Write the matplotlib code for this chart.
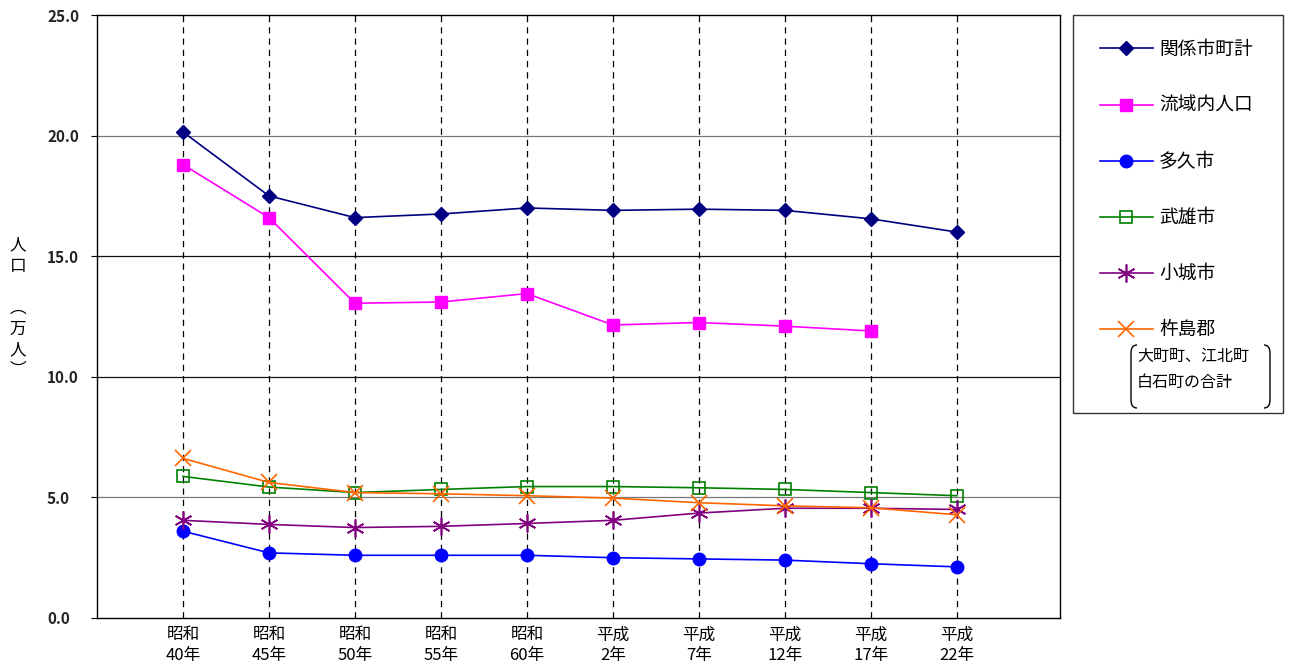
import matplotlib.pyplot as plt
from matplotlib.patches import Rectangle, PathPatch
from matplotlib.path import Path

plt.rcParams['font.family'] = ['Noto Sans CJK JP', 'DejaVu Sans']

years = ['昭和\n40年', '昭和\n45年', '昭和\n50年', '昭和\n55年', '昭和\n60年',
         '平成\n2年', '平成\n7年', '平成\n12年', '平成\n17年', '平成\n22年']
total = [20.15, 17.5, 16.6, 16.75, 17.0, 16.9, 16.95, 16.9, 16.55, 16.0]
basin = [18.8, 16.6, 13.05, 13.1, 13.45, 12.15, 12.25, 12.1, 11.9, None]
taku = [3.6, 2.7, 2.6, 2.6, 2.6, 2.5, 2.45, 2.4, 2.25, 2.12]
takeo = [5.87, 5.43, 5.2, 5.33, 5.45, 5.45, 5.4, 5.33, 5.2, 5.07]
ogi = [4.05, 3.88, 3.75, 3.8, 3.92, 4.05, 4.35, 4.55, 4.55, 4.5]
kishima = [6.62, 5.62, 5.2, 5.15, 5.07, 4.97, 4.78, 4.65, 4.57, 4.28]

W, H = 1291, 667
fig = plt.figure(figsize=(W / 100, H / 100), dpi=100)
ax = fig.add_axes([97 / W, 1 - 618 / H, (1060 - 97) / W, (618 - 15) / H])

x = list(range(1, len(years) + 1))

for yv, c in [(5, '#777777'), (10, '#111111'), (15, '#111111'), (20, '#777777')]:
    ax.axhline(yv, color=c, lw=0.9, zorder=1)
for xv in x:
    ax.axvline(xv, color='black', lw=0.9, ls=(0, (5, 4)), zorder=1)

ax.plot(x, total, color='#000080', marker='D', ms=7, lw=1.2, label='関係市町計', zorder=3)
ax.plot(x, basin, color='#FF00FF', marker='s', ms=9, lw=1.2, label='流域内人口', zorder=3)
ax.plot(x, taku, color='#0000FF', marker='o', ms=9, lw=1.2, label='多久市', zorder=3)
ax.plot(x, takeo, color='#008000', marker='s', ms=9, mfc='none', mew=1.2, lw=1.2,
        label='武雄市', zorder=3)
ax.plot(x, ogi, color='#800080', marker=(6, 2, 0), ms=13, mew=1.2, lw=1.2,
        label='小城市', zorder=3)
ax.plot(x, kishima, color='#FF6600', marker='x', ms=12, mew=1.2, lw=1.2,
        label='杵島郡', zorder=3)

ax.set_xlim(0, 11.2)
ax.set_ylim(0, 25)
ax.set_yticks([0, 5, 10, 15, 20, 25])
ax.set_yticklabels(['0.0', '5.0', '10.0', '15.0', '20.0', '25.0'], fontsize=11,
                   fontweight='bold', color='#222222')
ax.set_xticks(x)
ax.set_xticklabels(years, fontsize=12, linespacing=1.25)
ax.tick_params(axis='x', direction='in', length=0, pad=6)
ax.tick_params(axis='y', direction='out', length=4, pad=32)
for lab in ax.get_yticklabels():
    lab.set_horizontalalignment('left')
for s in ax.spines.values():
    s.set_linewidth(1.0)

fig.text(18 / W, 1 - 308 / H, '人\n口\n\n︵\n万\n人\n︶', fontsize=12,
         ha='center', va='center', linespacing=1.3)

fig.add_artist(Rectangle((1073 / W, 1 - 413 / H), 210 / W, 398 / H,
                         transform=fig.transFigure, fill=False, ec='#333333', lw=1.0))
fig.legend(loc='upper left', bbox_to_anchor=(1100 / W, 1 - 39 / H), frameon=False,
           fontsize=13.5, handlelength=2.8, labelspacing=1.87, handletextpad=0.35,
           borderaxespad=0, borderpad=0)

fig.text(1137 / W, 1 - 357 / H, '大町町、江北町', fontsize=11.5, va='center', ha='left')
fig.text(1137 / W, 1 - 383 / H, '白石町の合計', fontsize=11.5, va='center', ha='left')


def bracket(xp, sign):
    # rounded bracket from y=345 to y=408 in pixels
    top, bot = 345, 408
    pts = [(xp + sign * 6, top), (xp, top), (xp, top + 8), (xp, bot - 8),
           (xp, bot), (xp + sign * 6, bot)]
    pts = [(px / W, 1 - py / H) for px, py in pts]
    codes = [Path.MOVETO, Path.CURVE3, Path.CURVE3, Path.LINETO, Path.CURVE3, Path.CURVE3]
    fig.add_artist(PathPatch(Path(pts, codes), transform=fig.transFigure,
                             fill=False, ec='black', lw=1.0))


bracket(1131, 1)
bracket(1270, -1)

fig.savefig('out.png', dpi=100)
